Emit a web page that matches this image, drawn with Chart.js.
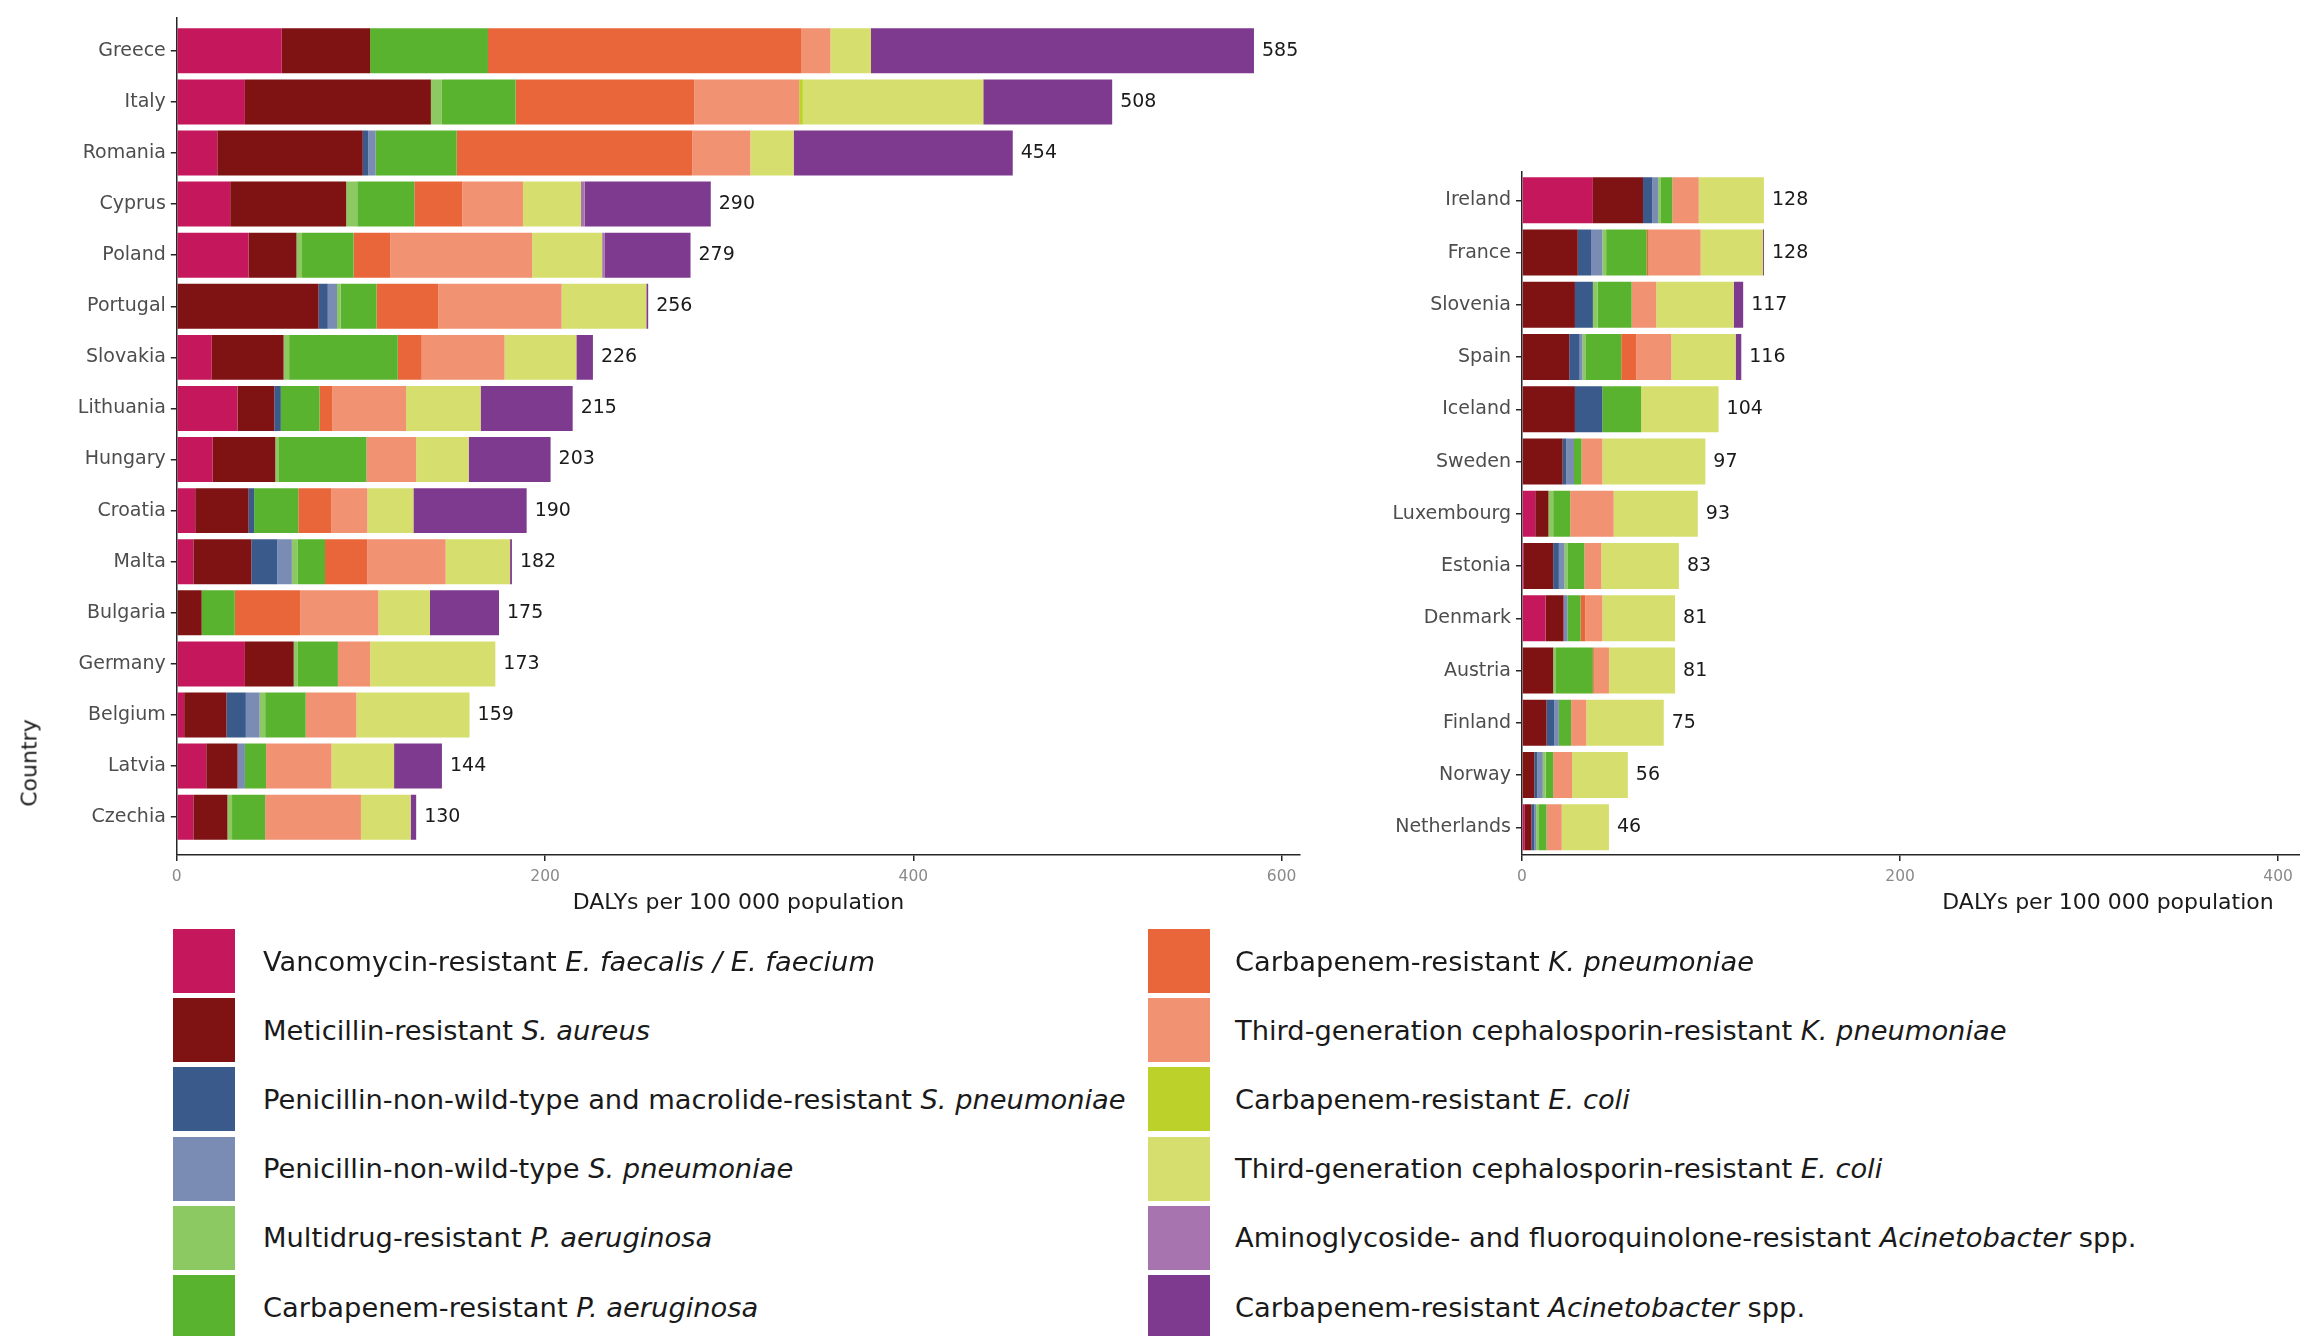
<!DOCTYPE html>
<html>
<head>
<meta charset="utf-8">
<title>DALYs per 100 000 population by country and antibiotic-resistant bacterium</title>
<script src="https://cdn.jsdelivr.net/npm/chart.js@4.4.1/dist/chart.umd.min.js"></script>
<style>
  html, body { margin: 0; padding: 0; background: #fff; }
  body { width: 2300px; height: 1336px; overflow: hidden; position: relative; font-family: "DejaVu Sans", sans-serif; }
  canvas { position: absolute; top: 0; }
  #chartA { left: 0; }
  #chartB { left: 1340px; }
  #countryTitle { position: absolute; left: 29px; top: 763px; transform: translate(-50%, -50%) rotate(-90deg);
                  font-size: 22px; color: #1a1a1a; white-space: nowrap; }
  .key { position: absolute; height: 64px; display: flex; align-items: center; }
  .key .sw { width: 62px; height: 64px; flex: none; }
  .key .tx { font-size: 27.3px; color: #1a1a1a; white-space: nowrap; }
</style>
</head>
<body>
<canvas id="chartA" width="1330" height="930"></canvas>
<canvas id="chartB" width="1374" height="930"></canvas>
<div id="countryTitle">Country</div>
<div id="legend"></div>
<script>
// Countries, highest burden panel and lower burden panel
const countriesA = ['Greece', 'Italy', 'Romania', 'Cyprus', 'Poland', 'Portugal', 'Slovakia', 'Lithuania',
                    'Hungary', 'Croatia', 'Malta', 'Bulgaria', 'Germany', 'Belgium', 'Latvia', 'Czechia'];
const countriesB = ['Ireland', 'France', 'Slovenia', 'Spain', 'Iceland', 'Sweden', 'Luxembourg', 'Estonia',
                    'Denmark', 'Austria', 'Finland', 'Norway', 'Netherlands'];

// Bacterium / resistance combinations (legend order = stacking order)
const pathogenLabels = [
  'Vancomycin-resistant <i>E. faecalis / E. faecium</i>',
  'Meticillin-resistant <i>S. aureus</i>',
  'Penicillin-non-wild-type and macrolide-resistant <i>S. pneumoniae</i>',
  'Penicillin-non-wild-type <i>S. pneumoniae</i>',
  'Multidrug-resistant <i>P. aeruginosa</i>',
  'Carbapenem-resistant <i>P. aeruginosa</i>',
  'Carbapenem-resistant <i>K. pneumoniae</i>',
  'Third-generation cephalosporin-resistant <i>K. pneumoniae</i>',
  'Carbapenem-resistant <i>E. coli</i>',
  'Third-generation cephalosporin-resistant <i>E. coli</i>',
  'Aminoglycoside- and fluoroquinolone-resistant <i>Acinetobacter</i> spp.',
  'Carbapenem-resistant <i>Acinetobacter</i> spp.'
];
const colours = ['#C4175C', '#7F1212', '#3A5A8C', '#7A8CB4', '#8DC963', '#5AB32E',
                 '#E8663A', '#F19272', '#BDD12B', '#D6DF6D', '#A774B0', '#7E3A8E'];

// DALYs per 100 000 population, panel A (order of countriesA)
const vreA    = [57, 37, 22, 29, 39, 0.5, 19, 33, 19.5, 10, 9, 0, 37, 4, 16, 9];
const mrsaA   = [48, 101, 79, 63, 26, 76.5, 39, 20, 34, 29, 31.5, 13.5, 26.5, 23, 17, 18.5];
const pnspMacA= [0, 0, 3, 0, 0, 5, 0, 3.5, 0, 3, 14, 0, 0, 10.5, 0, 0];
const pnspA   = [0, 0, 4, 0, 0, 5, 0, 0, 0, 0, 8, 0, 0, 7.5, 4, 0];
const mdrPaA  = [0, 6, 0, 6, 3, 2, 3, 0, 2, 0, 3, 0, 2, 3, 0, 2.5];
const crPaA   = [64, 40, 44, 31, 28, 19.5, 59, 21, 47.5, 24, 15, 18, 22, 22, 11.5, 18];
const crKpA   = [170, 97, 128, 26, 20, 33.5, 13, 7, 0, 18, 23, 35.5, 0, 0, 0, 0];
const gcKpA   = [16, 57, 31.5, 33, 77, 67, 45, 40, 27, 19.5, 42.5, 42.5, 17.5, 27.5, 35.5, 52];
const crEcA   = [0, 2, 0, 0, 0, 0, 0, 0, 0, 0, 0, 0, 0, 0, 0, 0];
const gcEcA   = [22, 98, 23.5, 31.5, 38, 46, 39, 40.5, 28.5, 25, 35, 28, 68, 61.5, 34, 27];
const agFqAcA = [0, 0, 0, 2, 1.5, 0, 0, 0, 0, 0, 0, 0, 0, 0, 0, 0];
const crAcA   = [208, 70, 119, 68.5, 46.5, 1, 9, 50, 44.5, 61.5, 1, 37.5, 0, 0, 26, 3];

// DALYs per 100 000 population, panel B (order of countriesB)
const vreB    = [37.5, 0, 0, 0, 0, 0, 7, 1, 12.5, 0, 0.5, 0, 1.5];
const mrsaB   = [26.5, 29.5, 28, 25, 28, 21.5, 7, 15.5, 9.5, 16.5, 12.5, 6.5, 3.5];
const pnspMacB= [5, 7, 9.5, 5.5, 14.5, 2, 0, 3, 0, 0, 4, 1.5, 1.5];
const pnspB   = [3, 6, 0, 1.5, 0, 4, 0, 3, 2, 0, 2.5, 3, 1];
const mdrPaB  = [1.5, 2, 2.5, 1.5, 0, 0, 2.5, 1.5, 0, 1.5, 0, 1.5, 1.5];
const crPaB   = [6, 21.5, 18, 19, 20.5, 4, 9, 9, 7, 19.5, 6.5, 4, 4];
const crKpB   = [0, 1, 0, 8, 0, 0, 0, 0, 2.5, 0.5, 0, 0, 0];
const gcKpB   = [14, 27.5, 13, 18.5, 0, 11, 23, 9, 9, 8, 8, 10, 8];
const crEcB   = [0, 0, 0, 0, 0, 0, 0, 0, 0, 0, 0, 0, 0];
const gcEcB   = [34.5, 33, 41, 34, 41, 54.5, 44.5, 41, 38.5, 35, 41, 29.5, 25];
const agFqAcB = [0, 0, 0, 0, 0, 0, 0, 0, 0, 0, 0, 0, 0];
const crAcB   = [0, 0.5, 5, 3, 0, 0, 0, 0, 0, 0, 0, 0, 0];

const xTicks = [0, 200, 400, 600];
const xTitle = 'DALYs per 100 000 population';

const seriesA = [vreA, mrsaA, pnspMacA, pnspA, mdrPaA, crPaA, crKpA, gcKpA, crEcA, gcEcA, agFqAcA, crAcA];
const seriesB = [vreB, mrsaB, pnspMacB, pnspB, mdrPaB, crPaB, crKpB, gcKpB, crEcB, gcEcB, agFqAcB, crAcB];

Chart.defaults.font.family = '"DejaVu Sans", sans-serif';
const axisColour = '#262626';

// Total DALYs written at the end of each stacked bar
const totalsPlugin = {
  id: 'totals',
  afterDatasetsDraw(chart) {
    const { ctx } = chart;
    const xs = chart.scales.x, ys = chart.scales.y;
    const n = chart.data.datasets[0].data.length;
    ctx.save();
    ctx.font = '19px "DejaVu Sans", sans-serif';
    ctx.fillStyle = '#1a1a1a';
    ctx.textBaseline = 'middle';
    ctx.textAlign = 'left';
    for (let i = 0; i < n; i++) {
      const total = chart.data.datasets.reduce((s, d) => s + d.data[i].x, 0);
      ctx.fillText(String(Math.round(total)), xs.getPixelForValue(total) + 8, ys.getPixelForValue(i));
    }
    ctx.restore();
  }
};

function buildChart(id, countries, series, frame) {
  const datasets = series.map((vals, k) => ({
    label: pathogenLabels[k].replace(/<[^>]+>/g, ''),
    data: vals.map((v, i) => ({ x: v, y: i })),
    backgroundColor: colours[k],
    borderWidth: 0,
    barPercentage: 0.88,
    categoryPercentage: 1
  }));
  const axisGrid = () => ({ display: true, offset: false, drawOnChartArea: false, drawTicks: true, tickLength: 6,
                            color: axisColour, lineWidth: 1.5 });
  const axisBorder = () => ({ display: true, color: axisColour, width: 1.5 });
  return new Chart(document.getElementById(id), {
    type: 'bar',
    data: { datasets },
    options: {
      indexAxis: 'y',
      responsive: false,
      animation: false,
      layout: { autoPadding: false, padding: { left: 0, top: frame.top, right: frame.right, bottom: 0 } },
      plugins: { legend: { display: false }, tooltip: { enabled: false } },
      scales: {
        x: {
          type: 'linear', stacked: true, min: 0, max: frame.xMax, offset: false,
          afterBuildTicks: s => { s.ticks = xTicks.map(v => ({ value: v })); },
          afterFit: s => { s.height = 75; },
          grid: axisGrid(),
          border: axisBorder(),
          ticks: { color: '#8a8a8a', font: { size: 15.5 }, padding: 7, maxRotation: 0, autoSkip: false },
          title: { display: true, text: xTitle, color: '#1a1a1a', font: { size: 22 }, padding: { top: 0, bottom: 14 } }
        },
        y: {
          type: 'linear', stacked: true, reverse: true, min: frame.yMin, max: frame.yMax, offset: false,
          afterBuildTicks: s => { s.ticks = countries.map((c, i) => ({ value: i })); },
          afterFit: s => { s.width = frame.yWidth; },
          grid: axisGrid(),
          border: axisBorder(),
          ticks: { color: '#4d4d4d', font: { size: 19 }, padding: 5, autoSkip: false, callback: v => countries[v] }
        }
      }
    },
    plugins: [totalsPlugin]
  });
}

buildChart('chartA', countriesA, seriesA, { yWidth: 176.8, top: 17.6, right: 30, yMin: -0.65, yMax: 15.74, xMax: 610 });
buildChart('chartB', countriesB, seriesB, { yWidth: 182, top: 171.6, right: 20, yMin: -0.55, yMax: 12.53, xMax: 620 });

// Two-column key below the panels
const legend = document.getElementById('legend');
pathogenLabels.forEach((lab, k) => {
  const col = k < 6 ? 0 : 1;
  const row = k % 6;
  const item = document.createElement('div');
  item.className = 'key';
  item.style.left = (col === 0 ? 173 : 1148) + 'px';
  item.style.top = (929 + row * 69.2) + 'px';
  const sw = document.createElement('div');
  sw.className = 'sw';
  sw.style.background = colours[k];
  const tx = document.createElement('div');
  tx.className = 'tx';
  tx.style.marginLeft = (col === 0 ? 28 : 25) + 'px';
  tx.innerHTML = lab;
  item.appendChild(sw);
  item.appendChild(tx);
  legend.appendChild(item);
});
</script>
</body>
</html>
